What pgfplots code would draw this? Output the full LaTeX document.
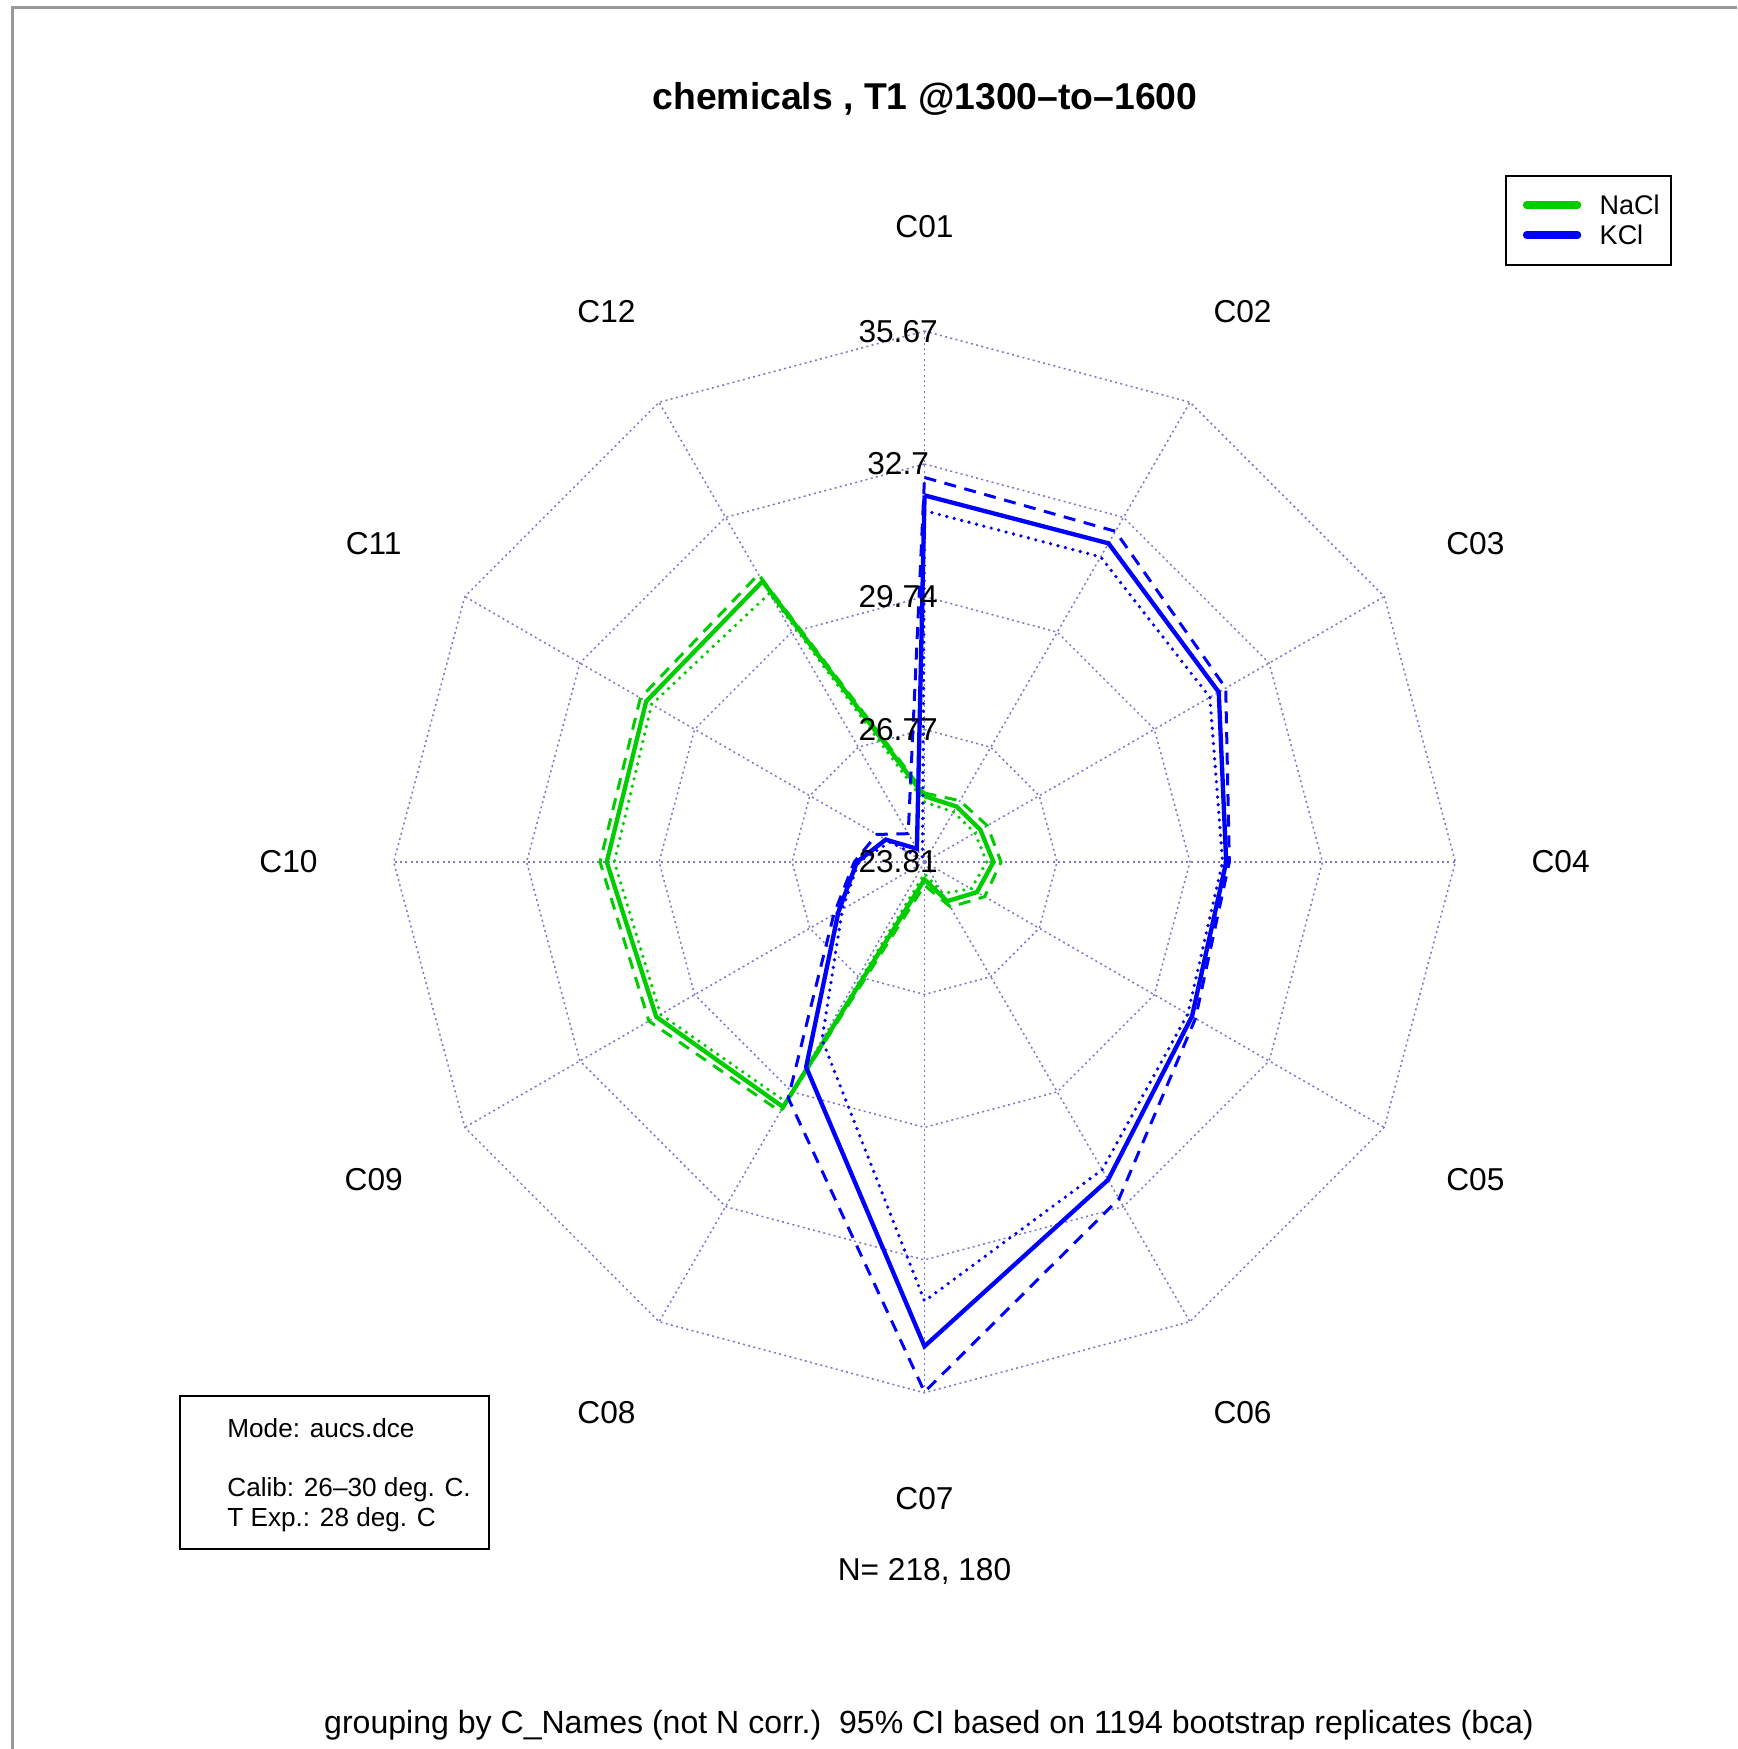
\documentclass[border=0pt]{standalone}
\usepackage{pgfplots}
\pgfplotsset{compat=1.18}
\usepackage{pgfplotstable}
\usepackage{fontspec}
\setmainfont{Liberation Sans}

\definecolor{ngreen}{RGB}{0,205,0}
\definecolor{kblue}{RGB}{0,0,255}
\definecolor{gridc}{RGB}{120,120,205}

% angle, NaCl (lower, estimate, upper), KCl (lower, estimate, upper)
\pgfplotstableread{
a    nl     n      nu     kl     k      ku
90   25.15  25.28  25.35  31.66  32.00  32.40
60   25.10  25.24  25.39  31.68  32.03  32.34
30   25.11  25.25  25.43  31.17  31.40  31.58
0    25.20  25.35  25.52  30.47  30.55  30.62
-30  25.01  25.16  25.36  30.60  30.71  30.80
-60  24.62  24.82  24.97  31.75  32.01  32.50
-90  24.07  24.20  24.33  33.62  34.63  35.65
-120 30.00  30.13  30.25  28.39  29.10  29.90
-150 30.62  30.73  30.92  25.93  26.03  26.15
-180 30.74  30.91  31.06  25.28  25.32  25.38
-210 30.85  30.99  31.14  24.70  24.81  25.04
-240 30.74  31.05  31.23  23.90  24.15  24.54
-270 25.15  25.28  25.35  31.66  32.00  32.40
}\data

\tikzset{
  gridline/.style={gridc, line width=0.45pt, dash pattern=on 0.6pt off 1.0pt},
  est/.style={line width=1.3pt, line join=miter},
  upr/.style={line width=0.9pt, dash pattern=on 3.6pt off 2.6pt},
  lwr/.style={line width=1.1pt, line cap=round, dash pattern=on 0pt off 2.3pt},
}

\begin{document}
\begin{tikzpicture}
\begin{axis}[
  x=13.428pt, y=13.428pt,
  xmin=-20.655, xmax=18.152, ymin=-19.817, ymax=19.258,
  hide axis, clip=false,
]
\coordinate (bl) at (axis cs:-20.655,-19.817);
\coordinate (tr) at (axis cs:18.152,19.258);

% page border
\draw[gray!80, line width=0.9pt] (axis cs:-20.386,-19.817) -- (axis cs:-20.386,19.08) -- (axis cs:18.152,19.08);

% grid rings
\pgfplotsinvokeforeach{2.96,5.93,8.89,11.86}{
  \draw[gridline] (axis cs:{#1*cos(90)},{#1*sin(90)})
    -- (axis cs:{#1*cos(60)},{#1*sin(60)})
    -- (axis cs:{#1*cos(30)},{#1*sin(30)})
    -- (axis cs:{#1*cos(0)},{#1*sin(0)})
    -- (axis cs:{#1*cos(-30)},{#1*sin(-30)})
    -- (axis cs:{#1*cos(-60)},{#1*sin(-60)})
    -- (axis cs:{#1*cos(-90)},{#1*sin(-90)})
    -- (axis cs:{#1*cos(-120)},{#1*sin(-120)})
    -- (axis cs:{#1*cos(-150)},{#1*sin(-150)})
    -- (axis cs:{#1*cos(-180)},{#1*sin(-180)})
    -- (axis cs:{#1*cos(-210)},{#1*sin(-210)})
    -- (axis cs:{#1*cos(-240)},{#1*sin(-240)})
    -- cycle;
}
% grid spokes
\pgfplotsinvokeforeach{90,60,30,0,-30,-60,-90,-120,-150,-180,-210,-240}{
  \draw[gridline] (axis cs:0,0) -- (axis cs:{11.86*cos(#1)},{11.86*sin(#1)});
}

% NaCl
\addplot[ngreen, est] table[x expr={(\thisrow{n}-23.81)*cos(\thisrow{a})}, y expr={(\thisrow{n}-23.81)*sin(\thisrow{a})}] {\data};
\addplot[ngreen, upr] table[x expr={(\thisrow{nu}-23.81)*cos(\thisrow{a})}, y expr={(\thisrow{nu}-23.81)*sin(\thisrow{a})}] {\data};
\addplot[ngreen, lwr] table[x expr={(\thisrow{nl}-23.81)*cos(\thisrow{a})}, y expr={(\thisrow{nl}-23.81)*sin(\thisrow{a})}] {\data};
% KCl
\addplot[kblue, est] table[x expr={(\thisrow{k}-23.81)*cos(\thisrow{a})}, y expr={(\thisrow{k}-23.81)*sin(\thisrow{a})}] {\data};
\addplot[kblue, upr] table[x expr={(\thisrow{ku}-23.81)*cos(\thisrow{a})}, y expr={(\thisrow{ku}-23.81)*sin(\thisrow{a})}] {\data};
\addplot[kblue, lwr] table[x expr={(\thisrow{kl}-23.81)*cos(\thisrow{a})}, y expr={(\thisrow{kl}-23.81)*sin(\thisrow{a})}] {\data};

% ring labels
\begin{scope}[font=\fontsize{9.5}{11}\selectfont]
\node at (axis cs:-0.59,0) {23.81};
\node at (axis cs:-0.59,2.96) {26.77};
\node at (axis cs:-0.59,5.93) {29.74};
\node at (axis cs:-0.59,8.89) {32.7};
\node at (axis cs:-0.59,11.86) {35.67};
% category labels
\node at (axis cs:0,14.19) {C01};
\node at (axis cs:7.105,12.306) {C02};
\node at (axis cs:12.306,7.105) {C03};
\node at (axis cs:14.21,0) {C04};
\node at (axis cs:12.306,-7.105) {C05};
\node at (axis cs:7.105,-12.306) {C06};
\node at (axis cs:0,-14.23) {C07};
\node at (axis cs:-7.105,-12.306) {C08};
\node at (axis cs:-12.306,-7.105) {C09};
\node at (axis cs:-14.21,0) {C10};
\node at (axis cs:-12.306,7.105) {C11};
\node at (axis cs:-7.105,12.306) {C12};
\node at (axis cs:0,-15.86) {N= 218, 180};
\end{scope}
\node[font=\fontsize{9.62}{11}\selectfont] at (axis cs:0.10,-19.29) {grouping by C\_Names (not N corr.)\ \ 95\% CI based on 1194 bootstrap replicates (bca)};

% title
\node[font=\fontsize{11.2}{13}\selectfont\bfseries] at (axis cs:0.01,17.04) {chemicals , T1 @1300--to--1600};

% legend
\draw[black, line width=0.6pt] (axis cs:12.98,13.34) rectangle (axis cs:16.67,15.33);
\draw[ngreen, line width=2.2pt, line cap=round] (axis cs:13.45,14.68) -- (axis cs:14.59,14.68);
\draw[kblue, line width=2.2pt, line cap=round] (axis cs:13.45,14.01) -- (axis cs:14.59,14.01);
\node[anchor=west, inner sep=0pt, font=\fontsize{8.1}{9}\selectfont] at (axis cs:15.07,14.68) {NaCl};
\node[anchor=west, inner sep=0pt, font=\fontsize{8.1}{9}\selectfont] at (axis cs:15.07,14.01) {KCl};

% info box
\draw[black, line width=0.6pt] (axis cs:-16.64,-11.92) rectangle (axis cs:-9.74,-15.34);
\begin{scope}[font=\fontsize{7.85}{9}\selectfont]
\node[anchor=west, inner sep=0pt] at (axis cs:-15.59,-12.65) {Mode: aucs.dce};
\node[anchor=west, inner sep=0pt] at (axis cs:-15.59,-14.02) {Calib: 26--30 deg. C.};
\node[anchor=west, inner sep=0pt] at (axis cs:-15.59,-14.69) {T Exp.: 28 deg. C};
\end{scope}
\end{axis}
\pgfresetboundingbox
\path (bl) rectangle (tr);
\end{tikzpicture}
\end{document}
